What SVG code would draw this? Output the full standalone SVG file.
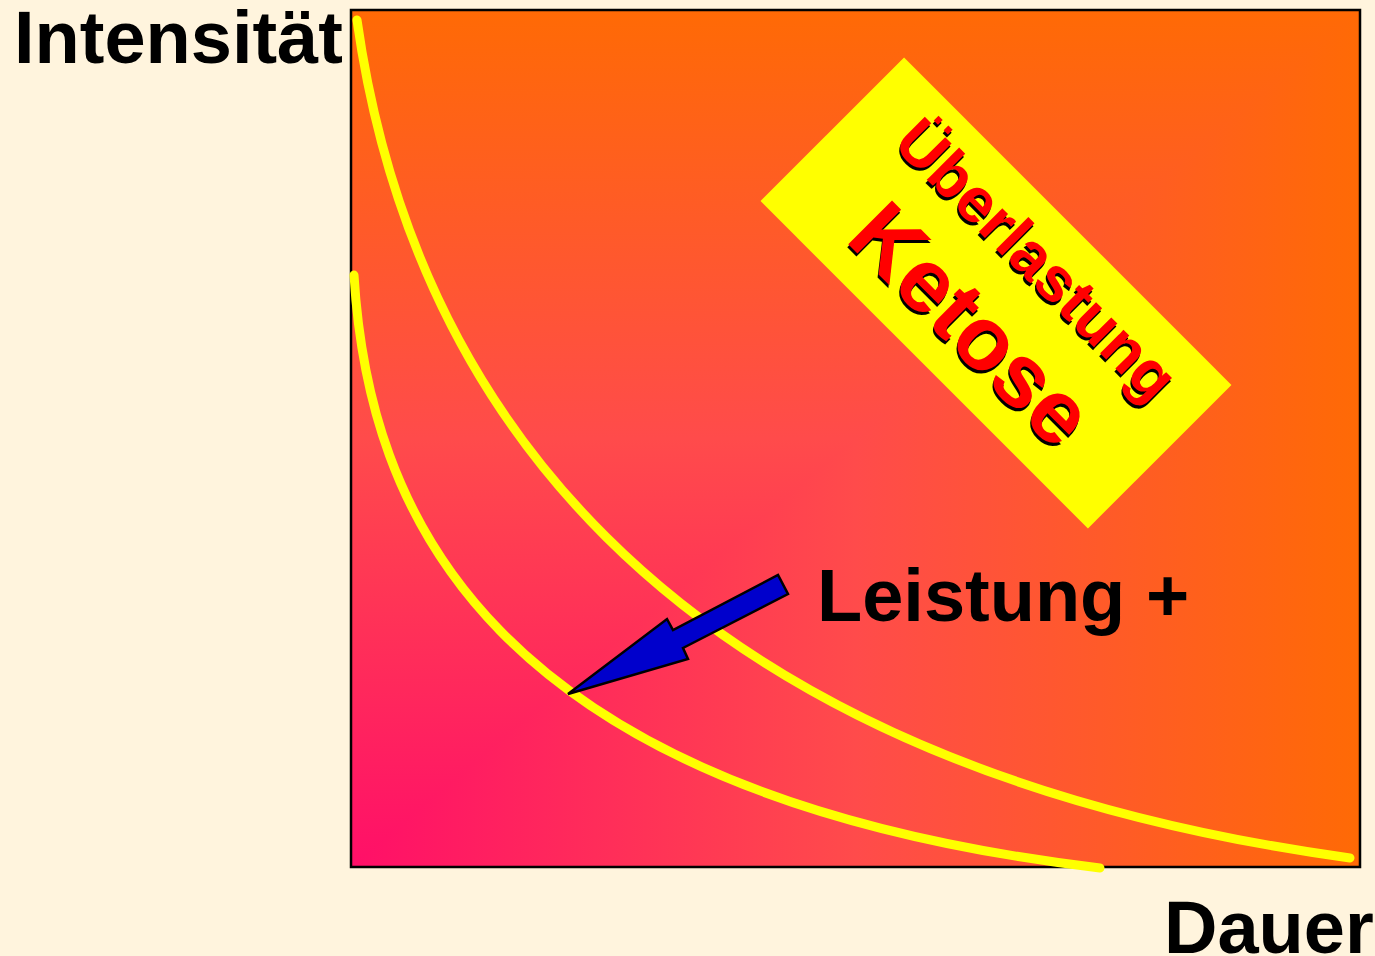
<svg xmlns="http://www.w3.org/2000/svg" width="1375" height="956" viewBox="0 0 1375 956">
  <defs>
    <linearGradient id="gv" gradientUnits="userSpaceOnUse" x1="0" y1="867" x2="0" y2="10">
      <stop offset="0" stop-color="#FF0F68"/>
      <stop offset="0.5" stop-color="#FF4B4B"/>
      <stop offset="1" stop-color="#FF6A05"/>
    </linearGradient>
    <linearGradient id="gh" gradientUnits="userSpaceOnUse" x1="351" y1="0" x2="1360" y2="0">
      <stop offset="0" stop-color="#FF0F68"/>
      <stop offset="0.5" stop-color="#FF4B4B"/>
      <stop offset="1" stop-color="#FF6A05"/>
    </linearGradient>
  </defs>
  <style>
    .lbl { font-family: "Liberation Sans", Arial, sans-serif; font-weight: bold; fill: #000; }
    .curve { fill: none; stroke: #FFFF00; stroke-width: 9; stroke-linecap: round; }
    .warn { font-family: "Liberation Sans", Arial, sans-serif; font-weight: bold; text-anchor: middle; }
  </style>
  <rect x="0" y="0" width="1375" height="956" fill="#FFF4DD"/>

  <g id="plot">
    <rect x="351" y="10" width="1009" height="857" fill="url(#gv)"/>
    <polygon points="351,867 1360,10 1360,867" fill="url(#gh)"/>
    <rect x="351" y="10" width="1009" height="857" fill="none" stroke="#000" stroke-width="2.5"/>
  </g>

  <g id="axis-labels">
    <text class="lbl" x="14" y="63" font-size="74">Intensität</text>
    <text class="lbl" x="1164" y="953" font-size="74">Dauer</text>
  </g>

  <g id="connectors">
    <path class="curve" d="M357,20 C408,380 640,760 1350,858"/>
    <path class="curve" d="M354,275 C368,507 481,794 1100,868"/>
    <polygon points="568,694 667,619 673,630 778,575 788,594 683,648 688,659" fill="#0000CC" stroke="#000" stroke-width="2.5" stroke-linejoin="miter"/>
  </g>

  <g id="leistung">
    <text class="lbl" x="817" y="621" font-size="74">Leistung +</text>
  </g>

  <g id="warning" transform="translate(996,293) rotate(45)">
    <rect x="-231.5" y="-101.5" width="463" height="203" fill="#FFFF00"/>
    <text class="warn" x="6.5" y="-28" font-size="63" fill="#000">Überlastung</text>
    <text class="warn" x="5" y="-31" font-size="63" fill="#FF0000">Überlastung</text>
    <text class="warn" x="6.5" y="73" font-size="90" fill="#000">Ketose</text>
    <text class="warn" x="5" y="70" font-size="90" fill="#FF0000">Ketose</text>
  </g>
</svg>
